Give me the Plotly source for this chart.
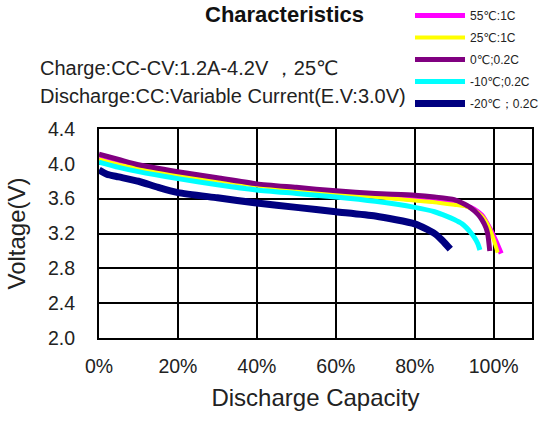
import plotly.graph_objects as go

# ---- data (discharge capacity in %, voltage in V) ----
series_names = ["55\u2103:1C", "25\u2103:1C", "0\u2103;0.2C", "-10\u2103;0.2C", "-20\u2103\uff1b0.2C"]
series_colors = ["#FF00FF", "#FFFF00", "#800080", "#00FFFF", "#000080"]
series_widths = [5, 4, 5, 5, 7]

cap_55 = [0, 5, 10, 20, 30, 40, 50, 60, 70, 80, 85, 90, 93, 95, 97, 99, 100.5, 101.9]
volt_55 = [4.06, 4.00, 3.96, 3.88, 3.82, 3.76, 3.71, 3.67, 3.63, 3.59, 3.57, 3.55, 3.52, 3.48, 3.41, 3.26, 3.12, 2.97]

cap_25 = [0, 5, 10, 20, 30, 40, 50, 60, 70, 80, 85, 90, 93, 95, 97, 98, 99, 100, 101]
volt_25 = [4.05, 3.99, 3.95, 3.87, 3.81, 3.75, 3.70, 3.66, 3.62, 3.58, 3.56, 3.53, 3.51, 3.47, 3.40, 3.34, 3.25, 3.13, 2.98]

cap_0 = [0, 5, 10, 20, 30, 40, 50, 60, 70, 80, 85, 90, 92, 94, 96, 97, 98, 98.5, 99]
volt_0 = [4.11, 4.05, 3.99, 3.91, 3.84, 3.77, 3.73, 3.69, 3.66, 3.64, 3.62, 3.59, 3.55, 3.50, 3.42, 3.36, 3.27, 3.19, 3.00]

cap_m10 = [0, 5, 10, 20, 30, 40, 50, 60, 70, 80, 85, 88, 90, 92, 93, 94, 95, 96, 96.5]
volt_m10 = [4.02, 3.96, 3.91, 3.83, 3.76, 3.70, 3.66, 3.62, 3.57, 3.50, 3.45, 3.40, 3.36, 3.31, 3.27, 3.22, 3.16, 3.08, 3.01]

cap_m20 = [0, 2, 5, 10, 15, 20, 30, 40, 50, 60, 70, 80, 83, 85, 87, 89]
volt_m20 = [3.93, 3.88, 3.85, 3.80, 3.73, 3.67, 3.61, 3.55, 3.50, 3.45, 3.40, 3.31, 3.25, 3.20, 3.12, 3.02]

series_x = [cap_55, cap_25, cap_0, cap_m10, cap_m20]
series_y = [volt_55, volt_25, volt_0, volt_m10, volt_m20]

x_tick_vals = [0, 20, 40, 60, 80, 100]
x_tick_text = ["0%", "20%", "40%", "60%", "80%", "100%"]
y_tick_vals = [2.0, 2.4, 2.8, 3.2, 3.6, 4.0, 4.4]
y_tick_text = ["2.0", "2.4", "2.8", "3.2", "3.6", "4.0", "4.4"]

title_text = "Characteristics"
note_lines = ["Charge:CC-CV:1.2A-4.2V \uff0c25\u2103",
              "Discharge:CC:Variable Current(E.V:3.0V)"]

FONT = "Liberation Sans, Arial, DejaVu Sans, sans-serif"

fig = go.Figure()
for name, xs, ys, col, w in zip(series_names, series_x, series_y, series_colors, series_widths):
    fig.add_trace(go.Scatter(
        x=xs, y=ys, mode="lines", name=name, legendgroup=name,
        line=dict(color=col, width=w, shape="spline", smoothing=0.6),
    ))

W, H = 549, 423
ml, mr, mt, mb = 99, 17, 129, 85
ph = H - mt - mb
pw = W - ml - mr

fig.update_layout(
    width=W, height=H,
    margin=dict(l=ml, r=mr, t=mt, b=mb, autoexpand=False),
    paper_bgcolor="white", plot_bgcolor="white",
    font=dict(family=FONT, color="#222222"),
    showlegend=True,
    legend=dict(
        x=(410 - ml) / pw, xanchor="left",
        y=1 + (mt - 1) / ph, yanchor="top",
        font=dict(size=12, family=FONT, color="#222222"),
        itemwidth=50, tracegroupgap=3, traceorder="grouped",
        bgcolor="rgba(0,0,0,0)", borderwidth=0,
    ),
    xaxis=dict(
        range=[0, 109.7], tickvals=x_tick_vals, ticktext=x_tick_text,
        showgrid=True, gridcolor="black", gridwidth=1.5,
        showline=True, mirror=True, linecolor="black", linewidth=2,
        zeroline=False, ticks="", ticklabelstandoff=10,
        tickfont=dict(size=19.5, family=FONT, color="#222222"),
        title=dict(text="Discharge Capacity", font=dict(size=24, family=FONT, color="#222222"), standoff=13),
        automargin=False,
    ),
    yaxis=dict(
        range=[2.0, 4.4], tickvals=y_tick_vals, ticktext=y_tick_text,
        showgrid=True, gridcolor="black", gridwidth=1.5,
        showline=True, mirror=True, linecolor="black", linewidth=2,
        zeroline=False, ticks="", ticklabelstandoff=18,
        tickfont=dict(size=19.5, family=FONT, color="#222222"),
        title=dict(text="Voltage(V)", font=dict(size=24, family=FONT, color="#222222"), standoff=16),
        automargin=False,
    ),
)

fig.add_annotation(text="<b>" + title_text + "</b>", xref="paper", yref="paper",
                   x=(284.5 - ml) / pw, y=1 + mt / ph, xanchor="center", yanchor="top",
                   showarrow=False, font=dict(size=22, family=FONT, color="#111111"))
for line, ypix in zip(note_lines, [68, 96]):
    fig.add_annotation(text=line, xref="paper", yref="paper",
                       x=(38 - ml) / pw, y=1 + (mt - ypix) / ph, xanchor="left", yanchor="middle",
                       showarrow=False, font=dict(size=20, family=FONT, color="#222222"))

fig.write_html("out.html", config={"displayModeBar": False},
               post_script="document.body.style.margin='0';")
